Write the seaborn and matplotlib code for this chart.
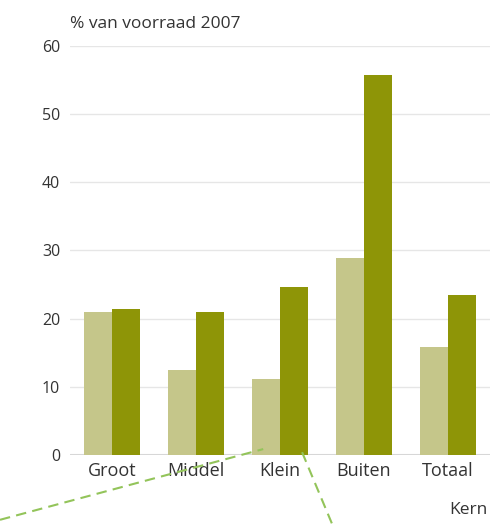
import matplotlib
matplotlib.use("Agg")
import matplotlib.pyplot as plt
import seaborn as sns
import pandas as pd
from matplotlib.lines import Line2D

categories = ["Groot", "Middel", "Klein", "Buiten", "Totaal"]
series_names = ["reeks 1", "reeks 2"]
values_light = [21.0, 12.5, 11.1, 28.9, 15.8]
values_dark = [21.4, 21.0, 24.6, 55.7, 23.5]
y_ticks = [0, 10, 20, 30, 40, 50, 60]

df = pd.DataFrame({
    "Kern": categories * 2,
    "reeks": [series_names[0]] * len(categories) + [series_names[1]] * len(categories),
    "waarde": values_light + values_dark,
})

sns.set_theme(style="white")
plt.rcParams["font.family"] = ["Open Sans", "DejaVu Sans"]

fig = plt.figure(figsize=(4.92, 5.24), dpi=100)
ax = fig.add_axes([0.142, 0.1317, 0.854, 0.7805])

sns.barplot(data=df, x="Kern", y="waarde", hue="reeks",
            palette=["#c5c68a", "#8e9507"], width=0.67, gap=0,
            saturation=1, legend=False, linewidth=0, ax=ax)

ax.set_ylim(0, 60)
ax.set_yticks(y_ticks)
ax.set_yticklabels([str(t) for t in y_ticks], fontsize=11.5, color="#333333")
ax.set_xlim(-0.5, 4.5)
ax.tick_params(axis="x", labelsize=13, colors="#333333", length=0, pad=5)
ax.tick_params(axis="y", length=0, pad=7)
ax.set_axisbelow(True)
ax.yaxis.grid(True, color="#e6e6e6", linewidth=1)
ax.axhline(0, color="#d4d4d4", linewidth=2.2, zorder=0.5)
for s in ax.spines.values():
    s.set_visible(False)
ax.set_xlabel("")
ax.set_ylabel("")

fig.text(0.142, 0.955, "% van voorraad 2007", fontsize=12.5, color="#333333", ha="left", va="center")
fig.text(0.99, 0.027, "Kern", fontsize=12.5, color="#333333", ha="right", va="center")

# decorative dashed callout lines
fig.add_artist(Line2D([0.0, 0.535], [0.008, 0.143], transform=fig.transFigure,
                      color="#93c45a", linestyle=(0, (5, 3)), linewidth=1.5))
fig.add_artist(Line2D([0.614, 0.675], [0.137, 0.0], transform=fig.transFigure,
                      color="#93c45a", linestyle=(0, (5, 3)), linewidth=1.5))

fig.savefig("out.png", dpi=100)
